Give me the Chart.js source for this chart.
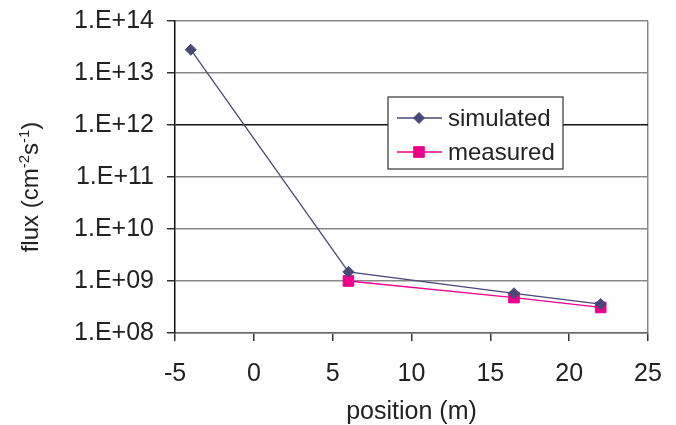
<!DOCTYPE html>
<html>
<head>
<meta charset="utf-8">
<script src="https://cdn.jsdelivr.net/npm/chart.js@4"></script>
<style>
  html, body { margin: 0; padding: 0; background: #fff; }
  canvas { display: block; }
</style>
</head>
<body>
<canvas id="chartCanvas" width="676" height="425"></canvas>
<script>
// data
const simX = [-4, 6, 16.5, 22];
const simY = [2.8e13, 1.5e9, 5.8e8, 3.6e8];
const measX = [6, 16.5, 22];
const measY = [1.0e9, 4.8e8, 3.1e8];
const yTicks = [1e8, 1e9, 1e10, 1e11, 1e12, 1e13, 1e14];
const xTicks = [-5, 0, 5, 10, 15, 20, 25];
// y title pieces: [text, superscript?]
const yTitleParts = [['flux (cm', false], ['-2', true], ['s', false], ['-1', true], [')', false]];

const FONT = '"Liberation Sans", Arial, sans-serif';

function sci(v) {
    const e = Math.round(Math.log10(v));
    return '1.E+' + String(e).padStart(2, '0');
}

function pts(xs, ys) {
    return xs.map((x, i) => ({ x: x, y: ys[i] }));
}

// y axis title with real superscripts
const yTitle = {
    id: 'yTitle',
    afterDraw(chart) {
        const ctx = chart.ctx;
        const big = '24px ' + FONT, small = '15px ' + FONT;
        ctx.save();
        let total = 0;
        yTitleParts.forEach(p => { ctx.font = p[1] ? small : big; total += ctx.measureText(p[0]).width; });
        ctx.translate(30, 187);
        ctx.rotate(-Math.PI / 2);
        ctx.fillStyle = '#222';
        ctx.textBaseline = 'alphabetic';
        let x = -total / 2;
        yTitleParts.forEach(p => {
            ctx.font = p[1] ? small : big;
            ctx.fillText(p[0], x, p[1] ? -1 : 8);
            x += ctx.measureText(p[0]).width;
        });
        ctx.restore();
    }
};

// boxed legend inside the plot, like the original
const boxLegend = {
    id: 'boxLegend',
    afterDatasetsDraw(chart) {
        const ctx = chart.ctx;
        const x0 = 388, y0 = 97, w = 175, h = 72;
        ctx.save();
        ctx.fillStyle = '#fff';
        ctx.fillRect(x0, y0, w, h);
        ctx.strokeStyle = '#333';
        ctx.lineWidth = 1.2;
        ctx.strokeRect(x0, y0, w, h);
        ctx.font = '24px ' + FONT;
        ctx.textBaseline = 'middle';
        chart.data.datasets.forEach((ds, i) => {
            const cy = y0 + 21 + i * 34;
            ctx.strokeStyle = ds.borderColor;
            ctx.lineWidth = ds.borderWidth;
            ctx.beginPath();
            ctx.moveTo(x0 + 9, cy);
            ctx.lineTo(x0 + 54, cy);
            ctx.stroke();
            ctx.fillStyle = ds.backgroundColor;
            ctx.lineWidth = 1;
            Chart.helpers.drawPoint(ctx, {
                pointStyle: ds.pointStyle,
                radius: ds.pointRadius,
                borderWidth: 1
            }, x0 + 31, cy);
            ctx.fillStyle = '#222';
            ctx.fillText(ds.label, x0 + 60, cy + 1);
        });
        ctx.restore();
    }
};

const ctx = document.getElementById('chartCanvas').getContext('2d');

new Chart(ctx, {
    type: 'scatter',
    data: {
        datasets: [{
            label: 'simulated',
            data: pts(simX, simY),
            showLine: true,
            borderColor: '#4a4878',
            backgroundColor: '#4a4878',
            borderWidth: 1.3,
            pointStyle: 'rectRot',
            pointRadius: 5.5,
            pointBorderWidth: 1
        }, {
            label: 'measured',
            data: pts(measX, measY),
            showLine: true,
            borderColor: '#ec008c',
            backgroundColor: '#ec008c',
            borderWidth: 1.3,
            pointStyle: 'rect',
            pointRadius: 7.5,
            pointBorderWidth: 1
        }]
    },
    options: {
        responsive: false,
        animation: false,
        layout: { padding: { top: 21, right: 28, left: 0, bottom: 0 } },
        plugins: {
            legend: { display: false },
            tooltip: { enabled: false }
        },
        scales: {
            x: {
                type: 'linear',
                min: -5,
                max: 25,
                afterBuildTicks: (scale) => { scale.ticks = xTicks.map(v => ({ value: v })); },
                afterFit: (scale) => {
                    scale.height = 92;
                    scale.paddingLeft = 0;
                    scale.paddingRight = 0;
                },
                ticks: {
                    color: '#222',
                    font: { family: FONT, size: 25 },
                    padding: 18,
                    maxRotation: 0
                },
                grid: {
                    drawOnChartArea: true,
                    color: (c) => (c.index === xTicks.length - 1 ? '#888' : 'transparent'),
                    tickColor: '#333',
                    tickLength: 8,
                    lineWidth: 1.5
                },
                border: { color: '#666', width: 1.5 },
                title: {
                    display: true,
                    text: 'position (m)',
                    color: '#222',
                    font: { family: FONT, size: 25, lineHeight: 1 },
                    padding: { top: 0, bottom: 0 }
                }
            },
            y: {
                type: 'logarithmic',
                min: 1e8,
                max: 1e14,
                afterBuildTicks: (scale) => { scale.ticks = yTicks.map(v => ({ value: v })); },
                afterFit: (scale) => {
                    scale.width = 175;
                    scale.paddingTop = 0;
                    scale.paddingBottom = 0;
                },
                ticks: {
                    color: '#222',
                    font: { family: FONT, size: 25 },
                    padding: 13,
                    callback: (v) => sci(v)
                },
                grid: {
                    color: (c) => (c.tick && c.tick.value === 1e12 ? '#111' : '#888'),
                    tickColor: '#333',
                    tickLength: 8,
                    lineWidth: 1.5
                },
                border: { color: '#111', width: 1.5 },
                title: { display: false }
            }
        }
    },
    plugins: [boxLegend, yTitle]
});
</script>
</body>
</html>
